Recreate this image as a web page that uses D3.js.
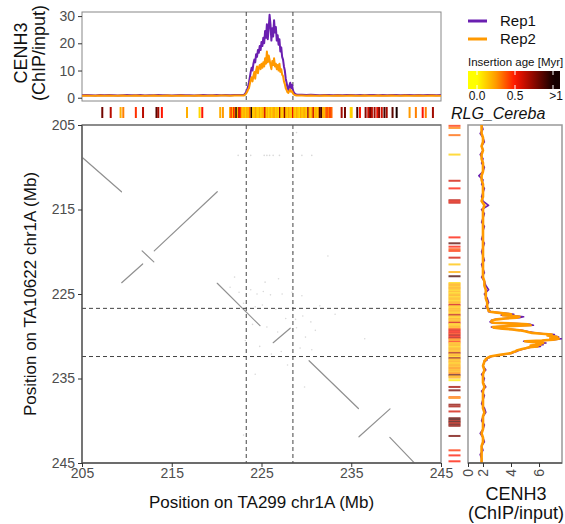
<!DOCTYPE html>
<html>
<head>
<meta charset="utf-8">
<script src="https://cdn.jsdelivr.net/npm/d3@7"></script>
<style>
  html, body { margin: 0; padding: 0; background: #fff; }
  svg { display: block; font-family: "Liberation Sans", Arial, Helvetica, sans-serif; }
</style>
</head>
<body>
<svg id="chart" width="565" height="524"></svg>
<script>
// ---- Synteny segments between the two assemblies (Mb): [x1, y1, x2, y2]
const syntenySegments = [
  [205.1, 208.9, 209.4, 212.9],
  [209.42, 223.66, 211.76, 221.45],
  [211.7, 219.9, 213.0, 221.2],
  [213.05, 219.9, 220.07, 212.9],
  [220.07, 223.73, 224.83, 228.75],
  [226.3, 230.76, 228.2, 229.05],
  [230.3, 232.9, 235.8, 238.55],
  [235.86, 241.9, 239.32, 238.6],
  [239.3, 241.96, 242.0, 244.96]
];

// Weak scattered alignment hits (Mb): [x, y]
const scatterHits = [
  [222.4,208.6],[223.8,208.6],[225.3,208.6],[225.6,208.6],[225.9,208.6],[226.3,208.6],[227.0,208.6],
  [228.5,208.6],[229.5,208.6],[230.6,208.6],[228.9,205.9],
  [221.5,224.2],[222.5,224.8],[223.8,224.5],[224.5,225.0],[225.2,224.7],[226.0,225.1],[227.3,225.0],
  [228.4,224.8],[229.5,225.2],[231.5,226.4],[223.0,226.1],[224.3,226.5],[225.1,226.3],[226.6,226.8],
  [227.7,227.9],[228.8,228.0],[229.6,227.6],[230.5,228.3],[224.0,228.6],[225.6,228.9],[226.8,229.5],
  [228.9,229.0],[229.9,230.1],[231.0,229.3],[223.2,230.5],[224.8,231.2],[227.2,231.8],[229.3,231.4],
  [230.6,231.6],[226.1,232.1],[224.3,234.5],[229.8,236.0],[223.0,241.7],[236.5,230.3],[228.5,220.1],
  [232.4,220.5],[225.4,223.6],[226.9,223.2],[222.0,223.0],[233.2,227.4],[227.9,233.4]
];

// Centromere boundaries (Mb)
const cenX = [223.3, 228.5];   // TA299
const cenY = [226.7, 232.4];   // TA10622

// ---- CENH3 ChIP/input along TA299 chr1A
const topPos = [
  205.0,205.5,206.0,206.5,207.0,207.5,208.0,208.5,209.0,209.5,210.0,210.5,211.0,211.5,212.0,212.5,
  213.0,213.5,214.0,214.5,215.0,215.5,216.0,216.5,217.0,217.5,218.0,218.5,219.0,219.5,220.0,220.5,
  221.0,221.5,222.0,222.5,
  223.0,223.1,223.2,223.3,223.4,223.5,223.6,223.7,223.8,223.9,224.0,224.1,224.2,224.3,224.4,224.5,
  224.6,224.7,224.8,224.9,225.0,225.1,225.2,225.3,225.4,225.5,225.6,225.7,225.8,225.9,226.0,226.1,
  226.2,226.3,226.4,226.5,226.6,226.7,226.8,226.9,227.0,227.1,227.2,227.3,227.4,227.5,227.6,227.7,
  227.8,227.9,228.0,228.1,228.2,228.3,228.4,228.5,228.6,228.7,228.8,228.9,229.0,
  229.5,230.0,230.5,231.0,231.5,232.0,232.5,233.0,233.5,234.0,234.5,235.0,235.5,236.0,236.5,237.0,
  237.5,238.0,238.5,239.0,239.5,240.0,240.5,241.0,241.5,242.0,242.5,243.0,243.5,244.0,244.5,245.0
];
const topRep1 = [
  0.9,1.0,0.9,0.8,1.0,0.9,1.0,0.9,0.8,0.9,1.0,0.9,0.9,1.0,0.8,0.9,
  0.9,1.0,0.9,0.9,0.8,0.9,1.0,0.9,0.9,0.8,0.9,1.0,0.9,0.9,1.0,0.9,
  1.0,0.9,1.0,1.0,
  1.0,1.2,1.6,2.2,3.0,4.0,5.5,7.5,9.5,11.0,10.0,12.5,14.0,13.0,16.0,15.0,
  17.5,16.5,19.0,17.5,20.5,19.0,22.0,20.0,24.5,22.0,27.0,21.5,25.5,30.5,27.0,21.0,
  25.5,22.5,28.5,24.0,26.0,21.0,23.0,19.5,21.5,17.0,18.5,15.0,14.0,11.5,10.0,7.0,
  5.5,3.5,2.8,4.5,5.5,3.5,4.8,2.8,2.0,1.6,1.3,1.2,1.1,
  1.1,1.0,1.1,1.0,0.9,1.0,1.0,0.9,1.0,0.9,1.0,1.0,0.9,1.0,0.9,1.0,
  1.0,0.9,1.0,0.9,1.0,1.0,0.9,1.0,1.0,0.9,1.0,0.9,1.0,1.0,0.9,1.0
];
const topRep2 = [
  0.7,0.8,0.7,0.7,0.8,0.7,0.8,0.7,0.7,0.8,0.7,0.7,0.8,0.7,0.7,0.7,
  0.8,0.7,0.7,0.8,0.7,0.7,0.8,0.7,0.7,0.7,0.8,0.7,0.7,0.8,0.7,0.8,
  0.8,0.7,0.8,0.8,
  0.8,0.9,1.2,1.6,2.2,3.0,3.5,5.0,6.5,7.5,6.0,8.0,9.5,7.0,10.0,11.5,
  9.0,11.0,12.0,10.5,12.5,11.0,13.0,11.5,14.5,12.5,17.0,13.0,15.5,14.0,12.0,10.5,
  13.5,12.0,14.5,11.5,12.5,10.5,12.0,10.0,12.5,9.5,10.5,8.5,8.0,6.0,5.0,3.5,
  2.8,2.0,1.8,2.5,3.0,2.2,2.4,1.6,1.2,1.0,0.9,0.8,0.8,
  0.8,0.7,0.8,0.7,0.7,0.8,0.7,0.7,0.8,0.7,0.7,0.8,0.7,0.7,0.8,0.7,
  0.7,0.8,0.7,0.7,0.8,0.7,0.7,0.8,0.7,0.7,0.8,0.7,0.7,0.8,0.7,0.7
];

// ---- CENH3 ChIP/input along TA10622 chr1A
const sidePos = [
  205.0,205.5,206.0,206.5,207.0,207.5,208.0,208.5,209.0,209.5,210.0,210.5,211.0,211.5,212.0,212.5,
  213.0,213.5,214.0,214.5,215.0,215.5,216.0,216.5,217.0,217.5,218.0,218.5,219.0,219.5,220.0,220.5,
  221.0,221.5,222.0,222.5,223.0,223.5,224.0,224.5,225.0,225.5,226.0,226.5,
  227.0,227.1,227.2,227.3,227.4,227.5,227.6,227.7,227.8,227.9,228.0,228.1,228.2,228.3,228.4,228.5,
  228.6,228.7,228.8,228.9,229.0,229.1,229.2,229.3,229.4,229.5,229.6,229.7,229.8,229.9,230.0,230.1,
  230.2,230.3,230.4,230.5,230.6,230.7,230.8,230.9,231.0,231.1,231.2,231.3,231.4,231.5,231.6,231.7,
  231.8,231.9,232.0,232.1,232.2,232.3,232.4,232.5,232.6,232.7,232.8,232.9,233.0,
  233.5,234.0,234.5,235.0,235.5,236.0,236.5,237.0,237.5,238.0,238.5,239.0,239.5,240.0,240.5,241.0,
  241.5,242.0,242.5,243.0,243.5,244.0,244.5,245.0
];
const sideRep1 = [
  1.9,2.0,1.8,2.0,2.1,1.9,2.0,1.8,2.0,1.9,2.1,2.0,1.7,2.0,1.9,2.1,
  2.0,1.9,2.0,2.4,1.9,2.1,2.0,1.9,2.1,2.0,2.0,1.9,2.1,2.0,1.9,2.0,
  2.1,1.9,2.0,2.1,1.9,2.1,2.2,2.4,2.1,2.3,2.4,2.2,
  2.5,2.4,3.1,3.8,4.2,3.3,4.4,4.9,4.6,3.5,2.9,2.6,2.6,2.5,2.6,4.4,
  5.4,5.6,3.7,2.6,2.8,3.5,4.2,4.8,5.1,5.4,5.7,6.3,7.1,6.7,7.2,7.4,
  6.9,7.6,7.1,6.3,4.9,5.7,6.5,5.9,6.3,5.5,6.1,5.4,5.2,4.9,4.7,4.5,
  4.4,4.2,4.1,3.7,3.3,2.9,2.6,2.5,2.3,2.2,2.3,2.2,2.1,
  2.0,2.2,1.9,2.1,2.0,2.2,1.9,2.1,2.0,1.9,2.1,2.2,2.0,1.9,2.1,2.0,
  1.8,2.0,2.1,1.9,2.0,1.8,1.9,1.9
];
const sideRep2 = [
  1.9,1.9,1.9,2.0,2.0,1.9,2.0,1.9,1.9,2.0,2.0,2.0,1.9,1.9,2.0,2.0,
  2.0,2.0,1.9,2.1,2.0,2.0,2.0,2.0,2.0,2.0,2.0,2.0,2.0,2.0,2.0,2.0,
  2.0,2.0,2.0,2.0,2.0,2.1,2.1,2.2,2.2,2.2,2.3,2.3,
  2.4,2.5,3.0,3.6,4.0,3.4,4.2,4.6,4.4,3.6,3.0,2.7,2.6,2.6,2.7,4.2,
  5.2,5.4,3.8,2.7,2.8,3.4,4.1,4.6,5.0,5.2,5.5,6.2,6.9,6.6,7.0,7.3,
  6.8,7.4,7.0,6.2,5.0,5.6,6.3,5.8,6.1,5.4,5.9,5.3,5.1,4.8,4.6,4.4,
  4.3,4.1,4.0,3.6,3.2,2.8,2.5,2.4,2.3,2.2,2.2,2.1,2.1,
  2.0,2.1,2.0,2.0,2.0,2.1,2.0,2.0,2.0,2.0,2.0,2.1,2.0,2.0,2.0,2.0,
  1.9,2.0,2.0,1.9,1.9,1.9,1.9,1.9
];

// ---- RLG_Cereba insertions: [position (Mb), insertion age (Myr)]
const cerebaTop = [
  [207.26,0.8],[208.2,0.65],[209.3,0.2],[209.6,0.3],[211.0,0.45],[211.8,0.65],[213.3,0.85],[213.5,0.7],
  [213.9,0.5],[216.7,0.2],[218.1,0.1],[218.4,0.5],[220.4,0.2],[220.7,0.25],
  [221.50,0.22],[221.65,0.45],[221.80,0.18],[221.95,0.5],[222.10,0.22],[222.20,1.0],[222.35,0.18],[222.50,0.6],
  [222.65,0.5],[222.80,0.22],[222.95,0.15],[223.10,0.2],[223.25,0.12],[223.40,0.22],[223.55,0.15],[223.70,0.35],
  [223.90,1.0],[224.05,0.15],[224.20,0.12],[224.35,0.22],[224.50,0.15],[224.65,0.1],[224.80,0.2],[224.95,0.12],
  [225.10,0.15],[225.25,0.22],[225.40,0.6],[225.55,0.12],[225.70,0.18],[225.85,0.1],[226.00,0.2],[226.15,0.12],
  [226.30,0.18],[226.45,0.22],[226.60,0.12],[226.75,0.18],[226.90,0.1],[227.06,0.7],[227.20,0.15],[227.35,0.12],
  [227.50,0.2],[227.60,0.75],[227.75,0.18],[227.90,0.12],[228.05,0.22],[228.20,0.15],[228.35,0.1],[228.50,0.55],
  [228.65,0.15],[228.80,0.12],[228.95,0.2],[229.10,0.15],[229.25,0.1],[229.40,0.22],[229.55,0.12],[229.70,0.18],
  [229.85,0.2],[230.00,0.12],[230.20,0.7],[230.35,0.18],[230.50,0.12],[230.65,0.22],[230.80,0.6],[230.95,0.15],
  [231.10,0.2],[231.25,0.12],[231.40,0.22],[231.50,0.85],[231.70,0.9],[231.85,0.2],[232.00,0.18],[232.20,0.35],
  [232.35,0.4],[232.50,0.3],[232.65,0.45],[232.80,0.35],
  [233.93,0.7],[234.3,0.8],[234.94,0.1],[235.05,0.12],[235.67,0.9],[235.97,0.5],
  [236.6,0.75],[236.9,0.6],[237.1,0.8],[237.3,0.65],[237.6,0.7],[237.9,0.55],[238.1,0.75],[238.4,0.6],
  [238.7,0.9],[238.95,0.7],[239.6,0.85],[240.06,1.0],[241.5,0.25],[242.2,0.3],[242.96,0.5],[243.3,0.3],[244.1,0.7]
];
const cerebaSide = [
  [205.1,0.45],[205.35,0.3],[206.2,0.35],[208.5,0.12],[211.6,0.6],[212.5,0.5],[213.9,0.65],[214.05,0.55],
  [214.2,0.6],[218.3,0.5],[219.0,0.85],[219.4,0.5],[219.7,0.4],[219.9,0.45],[220.7,0.6],[221.5,0.15],
  [222.4,0.2],[222.9,0.9],[223.7,0.1],[223.85,0.2],[224.0,0.22],[224.15,0.15],[224.3,0.22],
  [224.45,0.18],[224.60,0.12],[224.75,0.2],[224.90,0.1],[225.05,0.18],[225.20,0.22],[225.35,0.12],[225.50,0.18],
  [225.65,0.2],[225.80,0.12],[225.95,0.18],[226.10,0.22],[226.30,0.6],[226.45,0.18],[226.60,0.12],[226.75,0.2],
  [226.90,0.18],[227.05,0.22],[227.20,0.12],[227.35,0.2],[227.50,0.65],[227.65,0.18],[227.80,0.12],[227.95,0.22],
  [228.10,0.18],[228.25,0.2],[228.40,0.6],[228.55,0.18],[228.70,0.12],[228.85,0.22],[229.00,0.2],[229.15,0.4],
  [229.30,0.6],[229.45,0.5],[229.60,0.55],[229.75,0.45],[229.90,0.7],[230.05,0.5],[230.20,0.65],[230.35,0.35],
  [230.50,0.22],[230.65,0.45],[230.80,0.2],[230.95,0.18],[231.10,0.22],[231.25,0.12],[231.40,0.18],[231.55,0.22],
  [231.70,0.18],[231.85,0.2],[232.00,0.7],[232.15,0.18],[232.30,0.22],[232.45,0.12],[232.60,0.75],[232.75,0.2],
  [232.90,0.18],[233.05,0.22],[233.20,0.12],[233.35,0.2],[233.50,0.22],[233.65,0.18],[233.80,0.3],[233.95,0.2],
  [234.10,0.22],[234.25,0.18],[234.40,0.3],[234.60,0.85],[234.75,0.22],[234.90,0.2],[235.20,0.05],
  [236.0,0.7],[236.4,0.8],[237.2,0.35],[237.3,0.3],[238.1,0.75],[238.3,0.7],[238.9,0.6],
  [239.7,0.8],[239.85,0.95],[240.0,0.7],[240.15,0.9],[240.3,0.6],[240.45,0.85],[240.6,0.75],
  [241.8,0.8],[243.5,0.45],[244.1,0.5],[244.8,0.5]
];

// Axis ticks
const genomeTicks = [205, 215, 225, 235, 245];
const topTicks = [0, 10, 20, 30];
const sideTicks = [0, 2, 4, 6];
const ageTicks = [0, 0.5, 1];
const ageTickLabels = ["0.0", "0.5", ">1"];
const seriesNames = ["Rep1", "Rep2"];
const seriesColors = ["#6a1fb0", "#ff9900"];

// ---------------------------------------------------------------
const svg = d3.select("#chart");
const TXT = "#4d4d4d";

// Panel geometry
const mainBox = { l: 82, r: 441, t: 125, b: 463 };
const topBox = { t: 12, b: 101 };
const sideBox = { l: 468, r: 562 };

const x = d3.scaleLinear().domain([205, 245]).range([mainBox.l, mainBox.r]);
const y = d3.scaleLinear().domain([205, 245]).range([mainBox.t, mainBox.b]);
const yTop = d3.scaleLinear().domain([-1.2, 31.5]).range([topBox.b, topBox.t]);
const xSide = d3.scaleLinear().domain([0.93, 7.64]).range([sideBox.l, sideBox.r]).clamp(true);
const ageColor = d3.scaleLinear()
  .domain([0, 0.25, 0.5, 0.75, 1])
  .range(["#ffff00", "#ff9a00", "#ff1500", "#8b0800", "#140000"])
  .clamp(true);

const defs = svg.append("defs");
defs.append("clipPath").attr("id", "clipTop").append("rect")
  .attr("x", mainBox.l).attr("y", topBox.t).attr("width", mainBox.r - mainBox.l).attr("height", topBox.b - topBox.t);
defs.append("clipPath").attr("id", "clipSide").append("rect")
  .attr("x", sideBox.l).attr("y", mainBox.t).attr("width", sideBox.r - sideBox.l).attr("height", mainBox.b - mainBox.t);

function styleAxis(g) {
  g.selectAll(".domain").remove();
  g.selectAll(".tick line").attr("stroke", "#333");
  g.selectAll(".tick text").attr("fill", TXT).style("font-size", "14px");
}

// ---------------- Top panel: CENH3 along TA299 ----------------
const gTop = svg.append("g");
gTop.append("rect").attr("x", mainBox.l).attr("y", topBox.t)
  .attr("width", mainBox.r - mainBox.l).attr("height", topBox.b - topBox.t)
  .attr("fill", "none").attr("stroke", "#888").attr("stroke-width", 1);

gTop.selectAll(".cenTop").data(cenX).join("line")
  .attr("x1", d => x(d)).attr("x2", d => x(d)).attr("y1", topBox.t).attr("y2", topBox.b)
  .attr("stroke", "#444").attr("stroke-dasharray", "4,3");

const lineTop = d3.line().x(d => x(d[0])).y(d => yTop(d[1]));
const topSeries = [topRep1, topRep2];
const gTopLines = gTop.append("g").attr("clip-path", "url(#clipTop)");
topSeries.forEach((vals, i) => {
  gTopLines.append("path")
    .datum(topPos.map((p, j) => [p, vals[j]]))
    .attr("d", lineTop).attr("fill", "none")
    .attr("stroke", seriesColors[i]).attr("stroke-width", 2).attr("stroke-linejoin", "round");
});

gTop.append("g").attr("transform", `translate(${mainBox.l},0)`)
  .call(d3.axisLeft(yTop).tickValues(topTicks).tickSize(4).tickPadding(3))
  .call(styleAxis);

const topTitle = gTop.append("text").attr("transform", "translate(27,53) rotate(-90)")
  .attr("text-anchor", "middle").style("font-size", "18px").attr("fill", "#111");
topTitle.append("tspan").attr("x", 0).attr("dy", 0).text("CENH3");
topTitle.append("tspan").attr("x", 0).attr("dy", 18).text("(ChIP/input)");

// ---------------- RLG_Cereba tracks ----------------
svg.append("g").selectAll("rect").data(cerebaTop).join("rect")
  .attr("x", d => x(d[0]) - 1).attr("y", 107).attr("width", 2).attr("height", 11)
  .attr("fill", d => ageColor(d[1]));

svg.append("text").attr("x", 451).attr("y", 119)
  .style("font-size", "16px").style("font-style", "italic").attr("fill", "#111")
  .text("RLG_Cereba");

svg.append("g").attr("opacity", 0.75).selectAll("rect").data(cerebaSide).join("rect")
  .attr("x", 448.5).attr("y", d => y(d[0]) - 1).attr("width", 12).attr("height", 2)
  .attr("fill", d => ageColor(d[1]));

// ---------------- Main dot plot ----------------
const gMain = svg.append("g");
gMain.append("rect").attr("x", mainBox.l).attr("y", mainBox.t)
  .attr("width", mainBox.r - mainBox.l).attr("height", mainBox.b - mainBox.t)
  .attr("fill", "none").attr("stroke", "#999").attr("stroke-width", 1.5);

gMain.append("g").selectAll("circle").data(scatterHits).join("circle")
  .attr("cx", d => x(d[0])).attr("cy", d => y(d[1])).attr("r", 0.8).attr("fill", "#d9d9d9");

gMain.append("g").selectAll("line").data(syntenySegments).join("line")
  .attr("x1", d => x(d[0])).attr("y1", d => y(d[1]))
  .attr("x2", d => x(d[2])).attr("y2", d => y(d[3]))
  .attr("stroke", "#909090").attr("stroke-width", 1.2).attr("stroke-linecap", "round");

gMain.selectAll(".cv").data(cenX).join("line").attr("class", "cv")
  .attr("x1", d => x(d)).attr("x2", d => x(d)).attr("y1", mainBox.t).attr("y2", mainBox.b)
  .attr("stroke", "#444").attr("stroke-dasharray", "4,3");
gMain.selectAll(".ch").data(cenY).join("line").attr("class", "ch")
  .attr("x1", mainBox.l).attr("x2", mainBox.r).attr("y1", d => y(d)).attr("y2", d => y(d))
  .attr("stroke", "#444").attr("stroke-dasharray", "4,3");

// axis lines
gMain.append("line").attr("x1", mainBox.l).attr("x2", mainBox.l).attr("y1", mainBox.t).attr("y2", mainBox.b)
  .attr("stroke", "#555").attr("stroke-width", 1.3);
gMain.append("line").attr("x1", mainBox.l).attr("x2", mainBox.r).attr("y1", mainBox.b).attr("y2", mainBox.b)
  .attr("stroke", "#555").attr("stroke-width", 1.3);
gMain.append("line").attr("x1", mainBox.l).attr("x2", mainBox.r).attr("y1", mainBox.t).attr("y2", mainBox.t)
  .attr("stroke", "#666").attr("stroke-width", 1);

gMain.append("g").attr("transform", `translate(${mainBox.l},0)`)
  .call(d3.axisLeft(y).tickValues(genomeTicks).tickSize(4).tickPadding(3).tickFormat(d3.format("d")))
  .call(styleAxis);
gMain.append("g").attr("transform", `translate(0,${mainBox.b})`)
  .call(d3.axisBottom(x).tickValues(genomeTicks).tickSize(4).tickPadding(1).tickFormat(d3.format("d")))
  .call(styleAxis);

svg.append("text").attr("x", (mainBox.l + mainBox.r) / 2).attr("y", 508)
  .attr("text-anchor", "middle").style("font-size", "17px").attr("fill", "#111")
  .text("Position on TA299 chr1A (Mb)");
svg.append("text").attr("transform", `translate(36,${(mainBox.t + mainBox.b) / 2}) rotate(-90)`)
  .attr("text-anchor", "middle").style("font-size", "17px").attr("fill", "#111")
  .text("Position on TA10622 chr1A (Mb)");

// ---------------- Side panel: CENH3 along TA10622 ----------------
const gSide = svg.append("g");
gSide.append("rect").attr("x", sideBox.l).attr("y", mainBox.t)
  .attr("width", sideBox.r - sideBox.l).attr("height", mainBox.b - mainBox.t)
  .attr("fill", "none").attr("stroke", "#999").attr("stroke-width", 1.5);

gSide.selectAll(".sh").data(cenY).join("line").attr("class", "sh")
  .attr("x1", sideBox.l).attr("x2", sideBox.r).attr("y1", d => y(d)).attr("y2", d => y(d))
  .attr("stroke", "#444").attr("stroke-dasharray", "4,3");

const lineSide = d3.line().x(d => xSide(d[1])).y(d => y(d[0]));
const gSideLines = gSide.append("g").attr("clip-path", "url(#clipSide)");
[sideRep1, sideRep2].forEach((vals, i) => {
  gSideLines.append("path")
    .datum(sidePos.map((p, j) => [p, vals[j]]))
    .attr("d", lineSide).attr("fill", "none")
    .attr("stroke", seriesColors[i]).attr("stroke-width", i === 0 ? 1.6 : 2.6)
    .attr("stroke-linejoin", "round");
});

gSide.append("line").attr("x1", sideBox.l).attr("x2", sideBox.r).attr("y1", mainBox.b).attr("y2", mainBox.b)
  .attr("stroke", "#555").attr("stroke-width", 1.3);
const sideAxis = gSide.append("g").attr("transform", `translate(0,${mainBox.b})`)
  .call(d3.axisBottom(xSide).tickValues(sideTicks).tickSize(4).tickFormat(d3.format("d")))
  .call(styleAxis);
sideAxis.selectAll(".tick text")
  .attr("transform", "rotate(-90)").attr("text-anchor", "end")
  .attr("x", -6).attr("y", 0).attr("dy", "0.35em");

const sideTitle = svg.append("text").attr("text-anchor", "middle")
  .style("font-size", "18px").attr("fill", "#111");
sideTitle.append("tspan").attr("x", 516).attr("y", 500).text("CENH3");
sideTitle.append("tspan").attr("x", 516).attr("y", 519).text("(ChIP/input)");

// ---------------- Legends ----------------
const gLeg = svg.append("g");
seriesNames.forEach((name, i) => {
  const yy = 21 + i * 18;
  gLeg.append("line").attr("x1", 468).attr("x2", 487).attr("y1", yy).attr("y2", yy)
    .attr("stroke", seriesColors[i]).attr("stroke-width", 3);
  gLeg.append("text").attr("x", 500).attr("y", yy + 5).style("font-size", "15px")
    .attr("fill", "#111").text(name);
});

gLeg.append("text").attr("x", 468).attr("y", 66).style("font-size", "11.5px")
  .attr("fill", "#111").text("Insertion age [Myr]");

const ageX = d3.scaleLinear().domain([0, 1]).range([477, 553]);
const barL = 468, barR = 560;
const grad = defs.append("linearGradient").attr("id", "ageGrad")
  .attr("gradientUnits", "userSpaceOnUse")
  .attr("x1", barL).attr("x2", barR).attr("y1", 0).attr("y2", 0);
d3.range(0, 21).forEach(k => {
  const px = barL + (barR - barL) * k / 20;
  grad.append("stop").attr("offset", k / 20).attr("stop-color", ageColor(ageX.invert(px)));
});
gLeg.append("rect").attr("x", barL).attr("y", 71).attr("width", barR - barL).attr("height", 18)
  .attr("fill", "url(#ageGrad)");
gLeg.selectAll(".agetick").data(ageTicks).join("g").each(function (d, i) {
  const g = d3.select(this);
  g.append("line").attr("x1", ageX(d)).attr("x2", ageX(d)).attr("y1", 71).attr("y2", 75)
    .attr("stroke", "#fff").attr("stroke-width", 1);
  g.append("line").attr("x1", ageX(d)).attr("x2", ageX(d)).attr("y1", 85).attr("y2", 89)
    .attr("stroke", "#fff").attr("stroke-width", 1);
  g.append("text").attr("x", i === 2 ? ageX(d) + 3 : ageX(d)).attr("y", 100)
    .attr("text-anchor", "middle").style("font-size", "12px").attr("fill", "#111")
    .text(ageTickLabels[i]);
});
</script>
</body>
</html>
